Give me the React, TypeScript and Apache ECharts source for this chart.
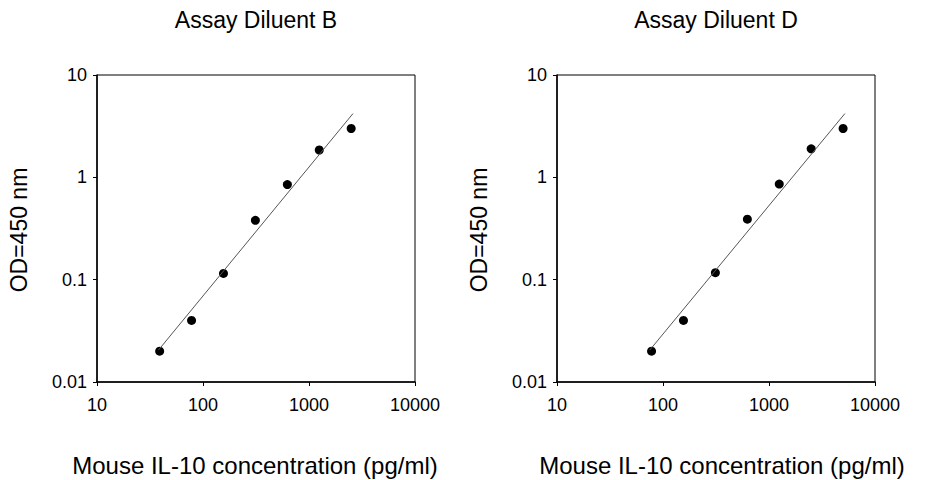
import { useRef, useEffect } from 'react';
import * as echarts from 'echarts';

const concB = [39, 78, 156, 312, 625, 1250, 2500];
const odB = [0.02, 0.04, 0.115, 0.38, 0.85, 1.85, 3.0];
const fitB = [[38, 0.0205], [2600, 4.2]];

const concD = [78, 156, 312, 625, 1250, 2500, 5000];
const odD = [0.02, 0.04, 0.117, 0.39, 0.86, 1.9, 3.0];
const fitD = [[75, 0.0205], [5200, 4.2]];

const titles = ['Assay Diluent B', 'Assay Diluent D'];
const xName = 'Mouse IL-10 concentration (pg/ml)';
const yName = 'OD=450 nm';

const FONT = 'Arial, "Liberation Sans", sans-serif';

export default function App() {
  const chartRef = useRef<HTMLDivElement>(null);

  useEffect(() => {
    if (!chartRef.current) return;
    const chart = echarts.init(chartRef.current, null, { renderer: 'svg' });

    const grids = [
      { left: 97, right: 511, top: 75, bottom: 98 },
      { left: 557, right: 51, top: 75, bottom: 98 },
    ];
    const titleX = [256, 716];
    const nameX = [255, 722];

    const axisLabel = { color: '#000', fontSize: 18, fontFamily: FONT };
    const fmt = (v: number) => String(Number(v.toPrecision(3)));
    const xAxis = grids.map((_, i) => ({
      type: 'log' as const,
      gridIndex: i,
      min: 10,
      max: 10000,
      logBase: 10,
      axisLine: { lineStyle: { color: '#000', width: 1.5 } },
      axisTick: { inside: false, length: 4, lineStyle: { color: '#000' } },
      minorTick: { show: false },
      splitLine: { show: false },
      axisLabel: { ...axisLabel, margin: 14, formatter: fmt },
    }));
    const yAxis = grids.map((_, i) => ({
      type: 'log' as const,
      gridIndex: i,
      min: 0.01,
      max: 10,
      logBase: 10,
      axisLine: { lineStyle: { color: '#000', width: 1.5 } },
      axisTick: { inside: false, length: 4, lineStyle: { color: '#000' } },
      splitLine: { show: false },
      axisLabel: { ...axisLabel, margin: 10, formatter: fmt },
    }));

    const mk = (conc: number[], od: number[], fit: number[][], i: number) => [
      {
        type: 'line',
        xAxisIndex: i,
        yAxisIndex: i,
        data: fit,
        symbol: 'none',
        lineStyle: { color: '#555', width: 1 },
      },
      {
        type: 'scatter',
        xAxisIndex: i,
        yAxisIndex: i,
        data: conc.map((c, k) => [c, od[k]]),
        symbolSize: 9,
        itemStyle: { color: '#000', opacity: 1 },
      },
    ];

    chart.setOption({
      animation: false,
      grid: grids.map((g) => ({ ...g, show: true, borderColor: '#000', borderWidth: 1, backgroundColor: 'transparent' })),
      xAxis,
      yAxis,
      graphic: [
        ...titles.map((t, i) => ({
          type: 'text',
          x: titleX[i],
          y: 20,
          style: { text: t, fill: '#000', fontSize: 23, fontFamily: FONT, align: 'center', verticalAlign: 'middle' },
        })),
        ...nameX.map((c) => ({
          type: 'text',
          x: c,
          y: 465,
          style: { text: xName, fill: '#000', fontSize: 24, fontFamily: FONT, align: 'center', verticalAlign: 'middle' },
        })),
        ...[19, 479].map((x) => ({
          type: 'text',
          x,
          y: 230,
          rotation: Math.PI / 2,
          style: { text: yName, fill: '#000', fontSize: 23, fontFamily: FONT, align: 'center', verticalAlign: 'middle' },
        })),
      ],
      series: [...mk(concB, odB, fitB, 0), ...mk(concD, odD, fitD, 1)],
    });

    return () => chart.dispose();
  }, []);

  return (
    <div style={{ position: 'fixed', left: 0, top: 0, width: 926, height: 480, background: '#fff' }}>
      <div ref={chartRef} style={{ width: 926, height: 480 }} />
    </div>
  );
}
